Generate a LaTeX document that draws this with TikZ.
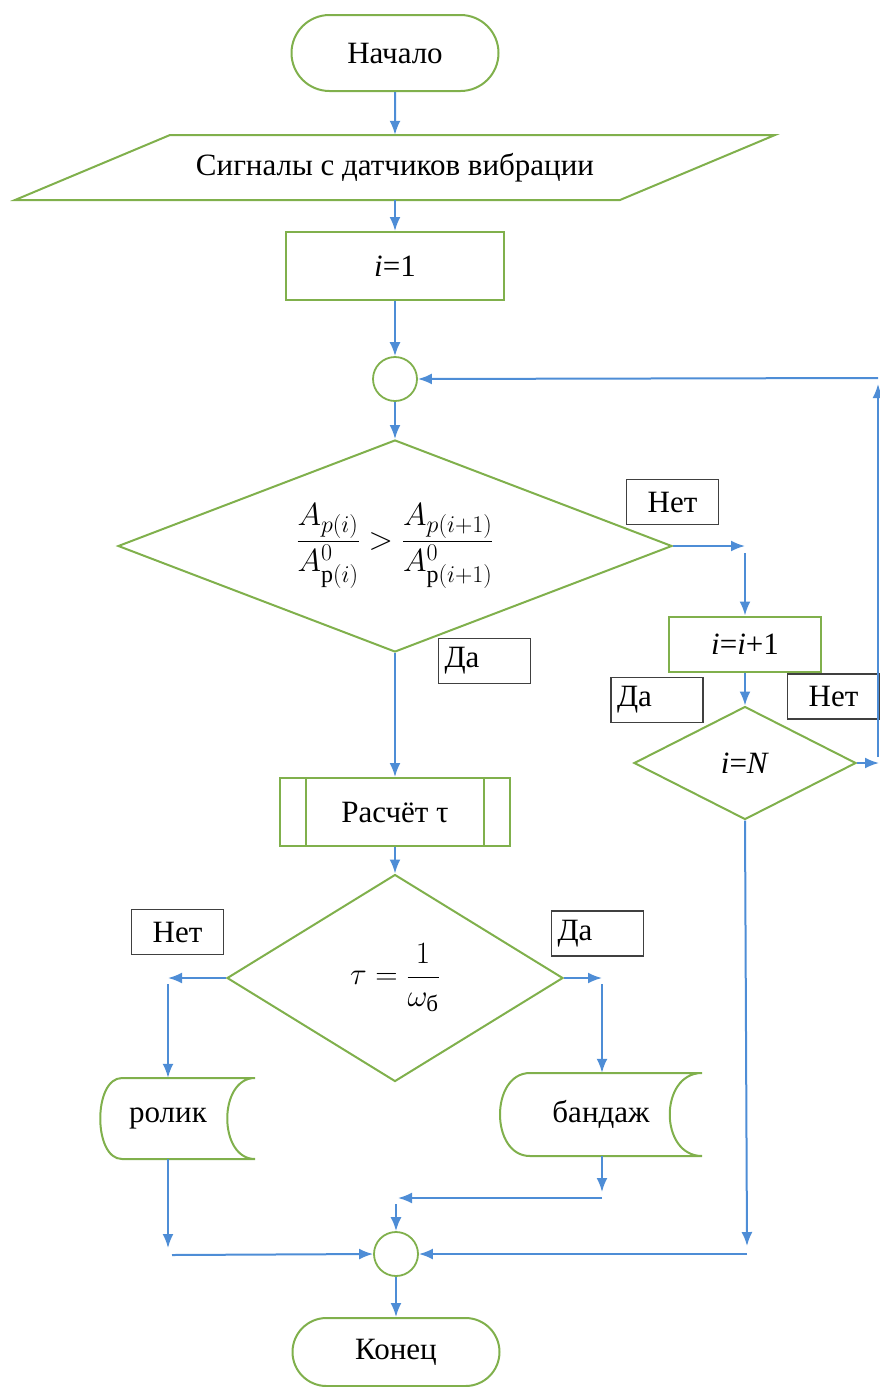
\RequirePackage{fix-cm}
\documentclass[tikz,border=0pt]{standalone}
\usepackage{amsmath}
\usepackage{fontspec}
\setmainfont{Liberation Serif}
\usetikzlibrary{arrows.meta, positioning, shapes.geometric, shapes.misc}

\DeclareMathSizes{31}{31}{23}{17}
\DeclareMathSizes{32}{32}{24}{18}

\definecolor{flowgreen}{RGB}{128,176,76}
\definecolor{flowblue}{RGB}{78,141,214}

\begin{document}
\begin{tikzpicture}[x=1pt, y=-1pt,
    font=\fontsize{31}{36}\selectfont,
    box/.style={draw=flowgreen, line width=2pt, rectangle, inner sep=0pt},
    term/.style={draw=flowgreen, line width=2pt, rounded rectangle, inner sep=0pt, minimum width=207pt, minimum height=76pt},
    cond/.style={draw=flowgreen, line width=2pt, diamond, inner sep=0pt},
    joint/.style={draw=flowgreen, line width=1.8pt, circle, minimum size=44pt, inner sep=0pt},
    tag/.style={draw=black!75, line width=1.2pt, fill=white, minimum width=92pt, minimum height=45pt, inner sep=0pt},
    flow/.style={draw=flowblue, line width=2pt, -{Latex[length=14pt, width=11pt]}},
    edge/.style={draw=flowgreen, line width=2pt},
    midmath/.style={font=\fontsize{32}{37}\selectfont}
]
    \useasboundingbox (0,0) rectangle (879,1387);

    % Start and input
    \node[term] (start) at (395,53) {Начало};
    \draw[edge] (170,135) -- (775,135) -- (620,200) -- (15,200) -- cycle;
    \node[minimum height=65pt, minimum width=440pt, inner sep=0pt] (input) at (395,167.5) {Сигналы с датчиков вибрации};
    \node[box, minimum width=218pt, minimum height=68pt] (init) at (395,266) {\textit{i}=1};
    \node[joint] (joinA) at (395,379) {};

    % Main test
    \node[cond, aspect=2.61, minimum width=554pt, minimum height=212pt, midmath] (cmp) at (395,546)
        {$\dfrac{A_{p(i)}}{A^{0}_{\mathrm{p}(i)}} > \dfrac{A_{p(i+1)}}{A^{0}_{\mathrm{p}(i+1)}}$};
    \node[tag] (noA) at (672.5,502) {Нет};
    \node[tag, align=left, text width=80pt] (yesA) at (484.5,661) {Да};

    % Counter branch
    \node[box, minimum width=152pt, minimum height=55pt] (incr) at (745,644) {\textit{i}=\textit{i}+1};
    \node[cond, aspect=1.96, minimum width=222pt, minimum height=113pt] (chk) at (745,763) {\textit{i}=\textit{N}};
    \node[tag, align=left, text width=80pt] (yesB) at (657,700) {Да};
    \node[tag] (noB) at (833.5,696.5) {Нет};

    % Subprocess
    \node[box, minimum width=230pt, minimum height=68pt] (calc) at (395,812) {Расчёт τ};
    \draw[edge] ([xshift=27pt]calc.north west) -- ([xshift=27pt]calc.south west);
    \draw[edge] ([xshift=-27pt]calc.north east) -- ([xshift=-27pt]calc.south east);

    % Second test
    \node[cond, aspect=1.62, minimum width=336pt, minimum height=207pt] (sel) at (395,978) {$\tau = \dfrac{1}{\omega_{\text{б}}}$};
    \node[tag] (noC) at (177.5,932) {Нет};
    \node[tag, align=left, text width=80pt] (yesC) at (597.5,933.5) {Да};

    % Outputs
    \draw[edge] (122,1078) -- (255,1078) .. controls (218,1078) and (218,1159) .. (255,1159)
        -- (122,1159) .. controls (93,1159) and (93,1078) .. (122,1078) -- cycle;
    \node[minimum width=120pt, minimum height=81pt, inner sep=0pt] (rolik) at (168,1118.5) {ролик};
    \draw[edge] (530,1073) -- (702,1073) .. controls (659,1073) and (659,1156) .. (702,1156)
        -- (530,1156) .. controls (490,1156) and (490,1073) .. (530,1073) -- cycle;
    \node[minimum width=140pt, minimum height=83pt, inner sep=0pt] (band) at (601,1114.5) {бандаж};

    % End
    \node[joint] (joinB) at (396,1254) {};
    \node[term, minimum height=68pt] (stop) at (396,1352) {Конец};

    % Free ends of connectors
    \coordinate (n1a) at (745,546);
    \coordinate (n1b) at (745,553);
    \coordinate (n2a) at (879,763);
    \coordinate (n2b) at (878,757);
    \coordinate (n2c) at (878,384);
    \coordinate (n2d) at (878,378);
    \coordinate (l1) at (168,978);
    \coordinate (l2) at (168,984);
    \coordinate (l3) at (168,1248);
    \coordinate (l4) at (172,1255);
    \coordinate (r1) at (602,978);
    \coordinate (r2) at (602,984);
    \coordinate (r3) at (602,1192);
    \coordinate (r4) at (602,1198);
    \coordinate (m1) at (398,1198);
    \coordinate (m2) at (396,1204);
    \coordinate (d1) at (747,1246);
    \coordinate (d2) at (747,1254);

    % Connectors
    \draw[flow] (start) -- (input);
    \draw[flow] (input) -- (init);
    \draw[flow] (init) -- (joinA);
    \draw[flow] (joinA) -- (cmp);
    \draw[flow] (cmp.east) -- (n1a);
    \draw[flow] (n1b) -- (incr.north);
    \draw[flow] (incr) -- (chk);
    \draw[flow] (chk.east) -- (n2a);
    \draw[flow] (n2b) -- (n2c);
    \draw[flow] (n2d) -- (joinA.east);
    \draw[flow] (cmp.south) -- (calc.north);
    \draw[flow] (calc) -- (sel);
    \draw[flow] (sel.west) -- (l1);
    \draw[flow] (l2) -- (l2 |- rolik.north);
    \draw[flow] (sel.east) -- (r1);
    \draw[flow] (r2) -- (r2 |- band.north);
    \draw[flow] (r2 |- band.south) -- (r3);
    \draw[flow] (r4) -- (m1);
    \draw[flow] (m2) -- (joinB.north);
    \draw[flow] (l3 |- rolik.south) -- (l3);
    \draw[flow] (l4) -- (joinB.west);
    \draw[flow] (chk.south) -- (d1);
    \draw[flow] (d2) -- (joinB.east);
    \draw[flow] (joinB) -- (stop);
\end{tikzpicture}
\end{document}
